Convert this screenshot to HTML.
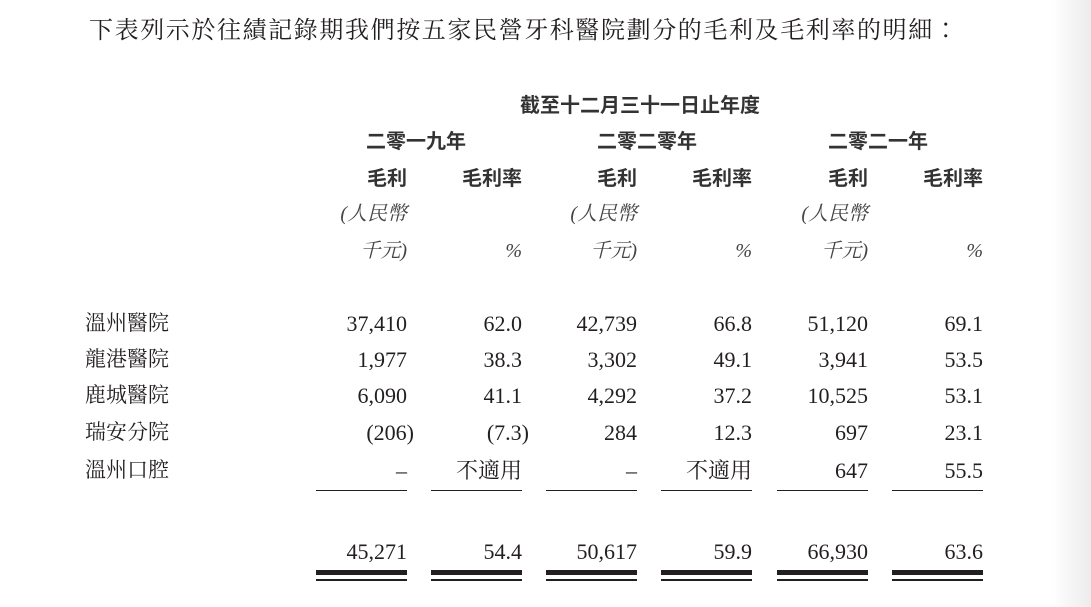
<!DOCTYPE html>
<html><head><meta charset="utf-8"><style>
body{margin:0;width:1091px;height:607px;background:#fff;position:relative;overflow:hidden;font-family:"Liberation Serif","Noto Serif CJK SC",serif;color:#231f20}
.t{position:absolute;white-space:nowrap;line-height:1;}
.r{text-align:right;}
.n{font-size:22px;}
.h{font-family:"Liberation Sans","Noto Sans CJK TC",sans-serif;font-size:20px;font-weight:bold;color:#333}
.i{font-style:italic;font-size:20px;color:#444}
.l{position:absolute;background:#231f20;}
.shade{position:absolute;right:0;top:0;width:40px;height:607px;background:linear-gradient(to right,#fff,#ececec)}
</style></head><body>
<div class="shade"></div>
<div class="t" style="left:89px;top:16px;font-size:24px;letter-spacing:1.6px;font-family:'Noto Serif CJK TC','Noto Serif CJK SC',serif">下表列示於往績記錄期我們按五家民營牙科醫院劃分的毛利及毛利率的明細：</div>
<div class="t h" style="left:520px;top:96px">截至十二月三十一日止年度</div>
<div class="t h" style="left:366px;top:132px">二零一九年</div>
<div class="t h" style="left:597px;top:132px">二零二零年</div>
<div class="t h" style="left:828px;top:132px">二零二一年</div>
<script>
var rights=[407,522,637,752,868,983];
var h='';
function txt(x,y,s,c){h+='<div class="t r '+c+'" style="right:'+(1091-x)+'px;top:'+y+'px">'+s+'</div>';}
for(var k=0;k<3;k++){
 txt(rights[2*k],169,'毛利','h');txt(rights[2*k+1],169,'毛利率','h');
 txt(rights[2*k],204,'(人民幣','i');txt(rights[2*k],241,'千元)','i');txt(rights[2*k+1],241,'%','i');
}
var rows=[['37,410','62.0','42,739','66.8','51,120','69.1'],['1,977','38.3','3,302','49.1','3,941','53.5'],['6,090','41.1','4,292','37.2','10,525','53.1'],['(206)','(7.3)','284','12.3','697','23.1'],['–','不適用','–','不適用','647','55.5']];
var ys=[313,349,385,422,460];
var labels=['溫州醫院','龍港醫院','鹿城醫院','瑞安分院','溫州口腔'];
for(var i=0;i<5;i++){
 h+='<div class="t" style="left:85px;top:'+(ys[i]-1)+'px;font-size:21px;font-family:\'Noto Serif CJK TC\',serif">'+labels[i]+'</div>';
 for(var j=0;j<6;j++){var s=rows[i][j];var x=rights[j];if(s=='(206)'||s=='(7.3)')x+=7;txt(x,ys[i],s,'n');}
}
var tot=['45,271','54.4','50,617','59.9','66,930','63.6'];
for(var j=0;j<6;j++){txt(rights[j],541,tot[j],'n');
 var L=rights[j]-91;
 h+='<div class="l" style="left:'+L+'px;top:490px;width:91px;height:1px"></div>';
 h+='<div class="l" style="left:'+L+'px;top:570px;width:91px;height:5px"></div>';
 h+='<div class="l" style="left:'+L+'px;top:579px;width:91px;height:2px"></div>';
}
document.write(h);
</script>
</body></html>
